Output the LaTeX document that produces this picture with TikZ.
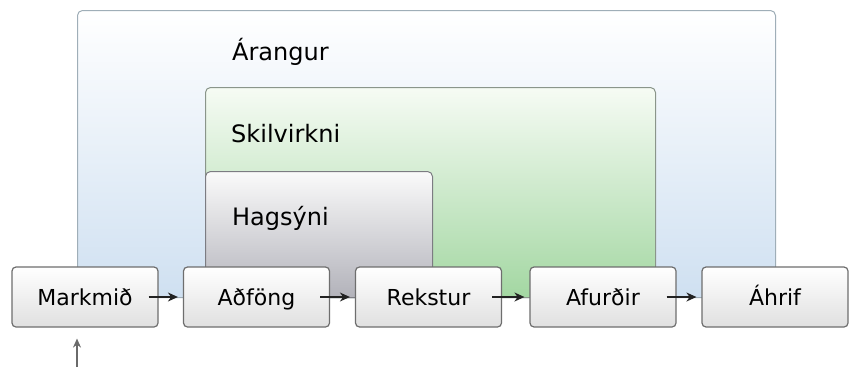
\documentclass[tikz,border=0pt]{standalone}
\usepackage{fontspec}
\setmainfont{DejaVu Sans}
\usetikzlibrary{arrows.meta}
\definecolor{blueB}{HTML}{CFE0F1}
\definecolor{blueEdge}{HTML}{9FAEB8}
\definecolor{greenT}{HTML}{F6FBF4}
\definecolor{greenB}{HTML}{A3D7A2}
\definecolor{greenEdge}{HTML}{8A958A}
\definecolor{grayT}{HTML}{FAFAFA}
\definecolor{grayB}{HTML}{B2B2BA}
\definecolor{grayEdge}{HTML}{7C7C82}
\definecolor{boxB}{HTML}{E0E0E0}
\definecolor{boxEdge}{HTML}{6E6E6E}
\definecolor{arrowC}{HTML}{222222}
\definecolor{upC}{HTML}{6A6A6A}
\begin{document}
\begin{tikzpicture}[x=1pt,y=-1pt,
  region/.style={draw, line width=1pt, rounded corners=5pt, anchor=north west, inner sep=0pt},
  lbl/.style={anchor=base west, inner sep=0pt, font=\fontsize{24}{28}\selectfont, text=black},
  stepbox/.style={draw=boxEdge, line width=1.2pt, rounded corners=4pt, top color=white, bottom color=boxB,
    minimum width=146pt, minimum height=60pt, inner sep=0pt, text height=16pt, text depth=0pt,
    font=\fontsize{22}{26}\selectfont, text=black},
  flow/.style={-{Stealth[length=10pt,width=9pt]}, line width=1.5pt, draw=arrowC, shorten >=5pt},
  uparrow/.style={-{Stealth[length=9pt,width=8pt]}, line width=1.2pt, draw=upC}
]
\useasboundingbox (0,0) rectangle (849,367);
\fill[white] (0,0) rectangle (849,367);

\node[region, draw=blueEdge, top color=white, bottom color=blueB,
      minimum width=698pt, minimum height=287pt] (arangur) at (77,10) {};
\node[region, draw=greenEdge, top color=greenT, bottom color=greenB,
      minimum width=450pt, minimum height=210pt] (skilvirkni) at (205,87) {};
\node[region, draw=grayEdge, top color=grayT, bottom color=grayB,
      minimum width=227pt, minimum height=126pt] (hagsyni) at (205,171) {};

\node[lbl] (arangurlbl) at (232,60) {Árangur};
\node[lbl] (skilvirknilbl) at (231,142) {Skilvirkni};
\node[lbl] (hagsynilbl) at (232,225) {Hagsýni};

\node[stepbox] (markmid) at (85,297) {Markmið};
\node[stepbox] (adfong) at (256.5,297) {Aðföng};
\node[stepbox] (rekstur) at (428.5,297) {Rekstur};
\node[stepbox] (afurdir) at (603,297) {Afurðir};
\node[stepbox] (ahrif) at (775,297) {Áhrif};

\draw[flow] ([xshift=-10pt]markmid.east) -- (adfong.west);
\draw[flow] ([xshift=-10pt]adfong.east) -- (rekstur.west);
\draw[flow] ([xshift=-10pt]rekstur.east) -- (afurdir.west);
\draw[flow] ([xshift=-10pt]afurdir.east) -- (ahrif.west);

\coordinate (src) at (77,367);
\draw[uparrow, shorten >=11pt] (src) -- (src |- markmid.south);
\end{tikzpicture}
\end{document}
